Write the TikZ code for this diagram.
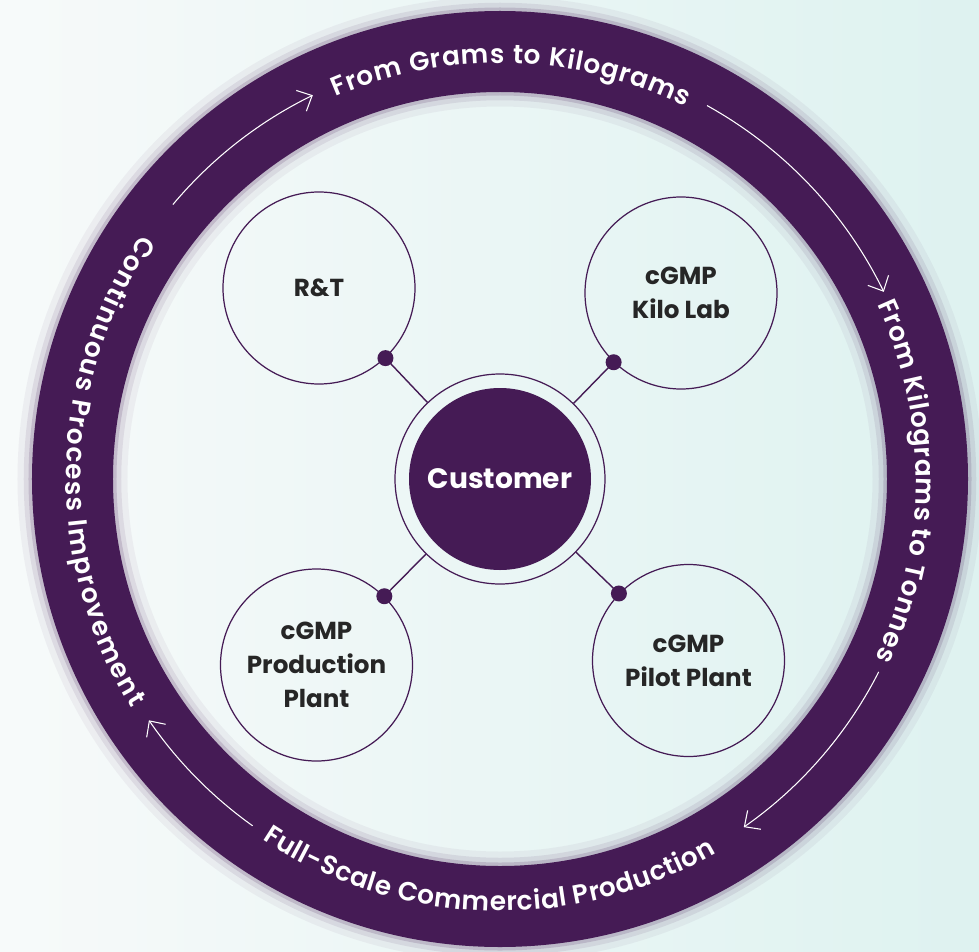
\documentclass[tikz,border=0pt]{standalone}
\usepackage{fontspec}
\setmainfont{Poppins}
\newfontfamily\ringfont{Poppins SemiBold}
\usetikzlibrary{positioning,calc}
\usetikzlibrary{decorations.text}
\usetikzlibrary{arrows.meta}
\definecolor{plum}{RGB}{69, 27, 85}
\definecolor{mint}{RGB}{222, 242, 240}
\definecolor{paper}{RGB}{247, 250, 250}
\definecolor{ink}{RGB}{38, 38, 38}

\begin{document}
\begin{tikzpicture}[
    stage/.style={circle, draw=plum, line width=0.7pt, minimum size=3.84cm, align=center,
      text=ink, font=\bfseries\fontsize{14}{19.5}\selectfont},
    hub/.style={circle, draw=plum, line width=0.7pt, minimum size=4.2cm},
    hubfill/.style={circle, fill=plum, minimum size=3.64cm, text=white,
      font=\bfseries\fontsize{16}{19}\selectfont},
    link/.style={draw=plum, line width=0.8pt},
    pin/.style={circle, fill=plum, inner sep=0pt, minimum size=0.32cm},
    flow/.style={white, line width=0.6pt, -{Straight Barb[length=2.4mm, width=4.6mm]}},
    ringtext/.style={decorate, decoration={text along path, text align=fit to path,
      text color=white, text={|\ringfont\fontsize{15}{18}\selectfont|#1}}}
  ]
    \useasboundingbox (-10,-9.44) rectangle (9.58,9.58);
    \shade[left color=paper, right color=mint] (-10,-9.44) rectangle (9.58,9.58);

    % ring with soft edges
    \draw[plum, opacity=0.05, line width=2.2cm] (0,0) circle[radius=8.55];
    \draw[plum, opacity=0.09, line width=1.95cm] (0,0) circle[radius=8.55];
    \draw[plum, opacity=0.16, line width=1.76cm] (0,0) circle[radius=8.55];
    \draw[plum, line width=1.62cm] (0,0) circle[radius=8.55];

    \draw[flow] (140:8.54) arc[start angle=140, end angle=116, radius=8.54];
    \draw[flow] (61:8.54) arc[start angle=61, end angle=26, radius=8.54];
    \draw[flow] (-27:8.5) arc[start angle=-27, end angle=-55, radius=8.5];
    \draw[flow] (234.5:8.52) arc[start angle=234.5, end angle=214.5, radius=8.52];

    \path[ringtext={From Grams to Kilograms}]
      (113.3:8.32) arc[start angle=113.3, end angle=63.5, radius=8.32];
    \path[ringtext={From Kilograms to Tonnes}]
      (24.8:8.32) arc[start angle=24.8, end angle=-25.5, radius=8.32];
    \path[ringtext={Full-Scale Commercial Production}]
      (236.6:8.64) arc[start angle=236.6, end angle=300, radius=8.64];
    \path[ringtext={Continuous Process Improvement}]
      (145.7:8.68) arc[start angle=145.7, end angle=211.8, radius=8.68];

    % centre and stages
    \node[hub] (cust) at (0,0) {};
    \node[hubfill] (custfill) at (cust) {Customer};
    \node[stage] (rt) at (-3.62,3.82) {R\&T};
    \node[stage] (kilo) at (3.62,3.72) {cGMP\\Kilo Lab};
    \node[stage] (prod) at (-3.67,-3.72) {cGMP\\Production\\Plant};
    \node[stage] (pilot) at (3.77,-3.63) {cGMP\\Pilot Plant};

    \draw[link] (cust) -- (rt) node[pin, pos=1] (rtpin) {};
    \draw[link] (cust) -- (kilo) node[pin, pos=1] (kilopin) {};
    \draw[link] (cust) -- (prod) node[pin, pos=1] (prodpin) {};
    \draw[link] (cust) -- (pilot) node[pin, pos=1] (pilotpin) {};
  \end{tikzpicture}
\end{document}
